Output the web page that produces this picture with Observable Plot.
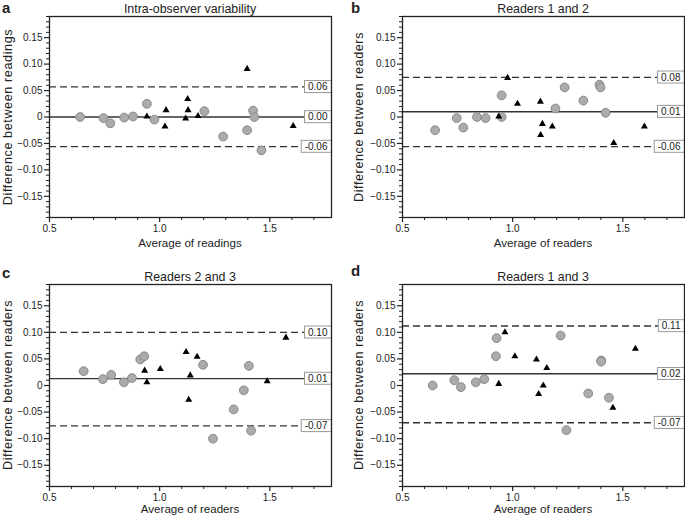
<!DOCTYPE html>
<html><head><meta charset="utf-8">
<script src="https://cdn.jsdelivr.net/npm/d3@7"></script>
<script src="https://cdn.jsdelivr.net/npm/@observablehq/plot@0.6"></script>
<style>
body{margin:0;background:#fff;}
#fig{position:relative;width:685px;height:518px;font-family:"Liberation Sans",Arial,sans-serif;color:#222;overflow:hidden;}
.p{position:absolute;}
.t{position:absolute;white-space:nowrap;font-size:11.6px;line-height:12px;transform:translate(-50%,-50%);}
.tt{position:absolute;white-space:nowrap;font-size:12.4px;line-height:13px;transform:translate(-50%,-50%);}
.yl{position:absolute;white-space:nowrap;font-size:12.6px;line-height:13px;letter-spacing:0.6px;transform:translate(-50%,-50%) rotate(-90deg);}
.lt{position:absolute;font-weight:bold;font-size:15px;line-height:15px;}
</style></head><body><div id="fig"></div>
<script>
// ---- text ----
const panelLetters = ["a", "b", "c", "d"];
const panelTitles = ["Intra-observer variability", "Readers 1 and 2", "Readers 2 and 3", "Readers 1 and 3"];
const xAxisTitles = ["Average of readings", "Average of readers", "Average of readers", "Average of readers"];
const yAxisTitles = ["Difference between readings", "Difference between readers", "Difference between readers", "Difference between readers"];

// ---- axes ----
const xDomain = [0.5, 1.78];
const yDomain = [-0.19, 0.19];
const xMajorTicks = [0.5, 1.0, 1.5];
const xMinorTicks = [0.6, 0.7, 0.8, 0.9, 1.1, 1.2, 1.3, 1.4, 1.6, 1.7];
const yMajorTicks = [-0.15, -0.10, -0.05, 0, 0.05, 0.10, 0.15];
const yMinorTicks = [-0.19,-0.18,-0.17,-0.16,-0.14,-0.13,-0.12,-0.11,-0.09,-0.08,-0.07,-0.06,-0.04,-0.03,-0.02,-0.01,
                     0.01,0.02,0.03,0.04,0.06,0.07,0.08,0.09,0.11,0.12,0.13,0.14,0.16,0.17,0.18,0.19];

// ---- panel a: intra-observer ----
const circleXa = [0.639, 0.745, 0.776, 0.839, 0.879, 0.942, 0.976, 1.203, 1.288, 1.397, 1.424, 1.430, 1.462];
const circleYa = [0.000, -0.002, -0.012, -0.001, 0.001, 0.025, -0.005, 0.011, -0.037, -0.025, 0.012, 0.000, -0.063];
const triXa = [0.942, 1.029, 1.024, 1.118, 1.127, 1.129, 1.174, 1.397, 1.606];
const triYa = [0.001, 0.013, -0.018, -0.003, 0.034, 0.013, 0.002, 0.091, -0.017];
const limitsA = [0.057, 0.000, -0.056];
const limitLabelsA = ["0.06", "0.00", "-0.06"];

// ---- panel b: readers 1 and 2 ----
const circleXb = [0.648, 0.746, 0.776, 0.838, 0.877, 0.950, 0.950, 1.194, 1.236, 1.321, 1.394, 1.399, 1.422];
const circleYb = [-0.025, -0.002, -0.020, 0.000, -0.002, 0.041, 0.000, 0.016, 0.056, 0.031, 0.061, 0.056, 0.008];
const triXb = [0.937, 0.977, 1.022, 1.126, 1.135, 1.127, 1.180, 1.459, 1.598];
const triYb = [0.001, 0.074, 0.025, 0.029, -0.013, -0.034, -0.018, -0.049, -0.018];
const limitsB = [0.075, 0.010, -0.056];
const limitLabelsB = ["0.08", "0.01", "-0.06"];

// ---- panel c: readers 2 and 3 ----
const circleXc = [0.655, 0.742, 0.780, 0.838, 0.874, 0.912, 0.930, 1.197, 1.242, 1.336, 1.382, 1.405, 1.415];
const circleYc = [0.027, 0.012, 0.020, 0.006, 0.014, 0.049, 0.055, 0.039, -0.100, -0.045, -0.009, 0.037, -0.085];
const triXc = [0.932, 0.942, 1.003, 1.120, 1.132, 1.139, 1.170, 1.488, 1.573];
const triYc = [0.028, 0.006, 0.031, 0.063, -0.027, 0.019, 0.054, 0.008, 0.090];
const limitsC = [0.100, 0.013, -0.076];
const limitLabelsC = ["0.10", "0.01", "-0.07"];

// ---- panel d: readers 1 and 3 ----
const circleXd = [0.637, 0.735, 0.765, 0.833, 0.871, 0.927, 0.924, 1.218, 1.244, 1.343, 1.402, 1.402, 1.437];
const circleYd = [0.000, 0.010, -0.003, 0.006, 0.012, 0.089, 0.055, 0.094, -0.084, -0.015, 0.047, 0.045, -0.023];
const triXd = [0.937, 0.965, 1.010, 1.108, 1.118, 1.139, 1.155, 1.455, 1.557];
const triYd = [0.003, 0.100, 0.055, 0.049, -0.016, 0.000, 0.033, -0.042, 0.069];
const limitsD = [0.112, 0.022, -0.070];
const limitLabelsD = ["0.11", "0.02", "-0.07"];

const panels = [
  {cx: circleXa, cy: circleYa, tx: triXa, ty: triYa, lim: limitsA, lab: limitLabelsA},
  {cx: circleXb, cy: circleYb, tx: triXb, ty: triYb, lim: limitsB, lab: limitLabelsB},
  {cx: circleXc, cy: circleYc, tx: triXc, ty: triYc, lim: limitsC, lab: limitLabelsC},
  {cx: circleXd, cy: circleYd, tx: triXd, ty: triYd, lim: limitsD, lab: limitLabelsD}
];

// layout of the four panels
const layout = [
  {left: 0,   top: 0,   width: 340, height: 258, mL: 49, mR: 9, mT: 16, mB: 41, letterX: 2,   letterY: 0,   xTitleOff: 26, yTitleX: 8},
  {left: 345, top: 0,   width: 340, height: 258, mL: 57, mR: 1, mT: 16, mB: 41, letterX: 351, letterY: 0,   xTitleOff: 26, yTitleX: 14},
  {left: 0,   top: 258, width: 340, height: 260, mL: 49, mR: 9, mT: 26, mB: 32, letterX: 2,   letterY: 265, xTitleOff: 23, yTitleX: 8},
  {left: 345, top: 258, width: 340, height: 260, mL: 57, mR: 1, mT: 26, mB: 32, letterX: 351, letterY: 263, xTitleOff: 23, yTitleX: 14}
];

const fig = document.getElementById("fig");
const fmtY = d => d === 0 ? "0" : d3.format(".2f")(d);
const fmtX = d3.format(".1f");

panels.forEach((p, k) => {
  const L = layout[k];
  const circles = p.cx.map((x, i) => ({x, y: p.cy[i]}));
  const tris = p.tx.map((x, i) => ({x, y: p.ty[i]}));
  const idx = [0, 1, 2];
  const plot = Plot.plot({
    width: L.width, height: L.height,
    marginLeft: L.mL, marginRight: L.mR, marginTop: L.mT, marginBottom: L.mB,
    x: {domain: xDomain},
    y: {domain: yDomain},
    style: {fontFamily: '"Liberation Sans", Arial, sans-serif', fontSize: "10px", color: "#222", background: "transparent", overflow: "visible"},
    marks: [
      Plot.ruleY([p.lim[1]], {stroke: "#333", strokeWidth: 1.4}),
      Plot.ruleY([p.lim[0], p.lim[2]], {stroke: "#333", strokeWidth: 1.4, strokeDasharray: "7,4"}),
      Plot.dot(circles, {x: "x", y: "y", r: 4.4, fill: "#ababab", stroke: "#8a8a8a", strokeWidth: 1}),
      Plot.dot(tris, {x: "x", y: "y", r: 2.6, symbol: "triangle", fill: "#000", stroke: "none"}),
      Plot.text(idx, {y: i => p.lim[i], text: i => p.lab[i], frameAnchor: "right", textAnchor: "end", dx: -4, fontSize: 10, fill: "#222"}),
      Plot.axisY(yMajorTicks, {tickSize: 5, tickPadding: 2, tickFormat: fmtY, label: null, strokeWidth: 1.2}),
      Plot.axisY(yMinorTicks, {tickSize: 3, tickFormat: () => "", label: null, strokeWidth: 1}),
      Plot.axisX(xMajorTicks, {tickSize: 5, tickPadding: 2, tickFormat: fmtX, label: null, strokeWidth: 1.2}),
      Plot.axisX(xMinorTicks, {tickSize: 3, tickFormat: () => "", label: null, strokeWidth: 1}),
      Plot.frame({stroke: "#222", strokeWidth: 1.3})
    ]
  });
  const wrap = document.createElement("div");
  wrap.className = "p";
  wrap.style.left = L.left + "px";
  wrap.style.top = L.top + "px";
  wrap.appendChild(plot);
  fig.appendChild(wrap);

  // white boxes behind the limit labels
  plot.querySelectorAll('g[aria-label="text"] text').forEach(t => {
    const b = t.getBBox();
    const r = document.createElementNS("http://www.w3.org/2000/svg", "rect");
    r.setAttribute("x", b.x - 3.5);
    r.setAttribute("y", b.y - 0.5);
    r.setAttribute("width", b.width + 7);
    r.setAttribute("height", b.height + 1);
    r.setAttribute("fill", "#fff");
    r.setAttribute("stroke", "#999");
    r.setAttribute("stroke-width", "1");
    const tr = t.getAttribute("transform");
    if (tr) r.setAttribute("transform", tr);
    t.parentNode.insertBefore(r, t);
  });

  const fx0 = L.left + L.mL, fx1 = L.left + L.width - L.mR;
  const fy0 = L.top + L.mT, fy1 = L.top + L.height - L.mB;
  const cxp = (fx0 + fx1) / 2, cyp = (fy0 + fy1) / 2;

  const addText = (cls, txt, x, y) => {
    const d = document.createElement("div");
    d.className = cls; d.textContent = txt;
    d.style.left = x + "px"; d.style.top = y + "px";
    fig.appendChild(d);
  };
  addText("tt", panelTitles[k], cxp, fy0 - 7);
  addText("t", xAxisTitles[k], cxp, fy1 + L.xTitleOff);
  addText("yl", yAxisTitles[k], L.left + L.yTitleX, cyp);
  const lt = document.createElement("div");
  lt.className = "lt"; lt.textContent = panelLetters[k];
  lt.style.left = L.letterX + "px"; lt.style.top = L.letterY + "px";
  fig.appendChild(lt);
});
</script>
</body></html>
